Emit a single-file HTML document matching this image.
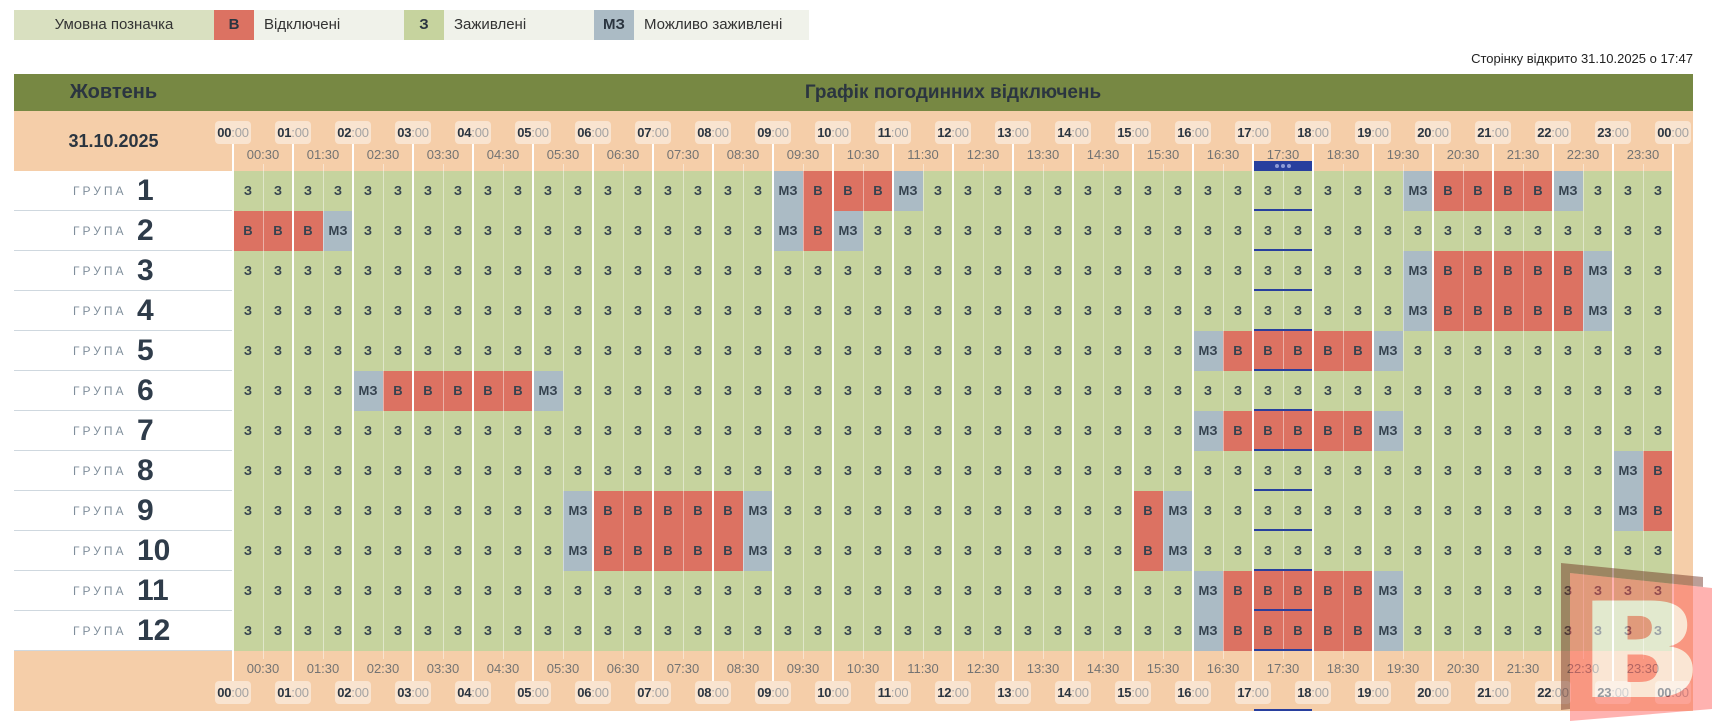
<!DOCTYPE html>
<html><head><meta charset="utf-8">
<style>
*{margin:0;padding:0;box-sizing:border-box}
body{width:1712px;height:722px;overflow:hidden;background:#fff;position:relative;font-family:"Liberation Sans",Arial,sans-serif;color:#2b3540}
.a{position:absolute}
.leg{position:absolute;top:10px;height:30px;line-height:30px;font-size:15px;color:#333}
.row{position:absolute;left:233px;height:40px;display:flex}
.row i{font-style:normal;display:block;width:30px;height:40px;line-height:40px;text-align:center;background:#c6d39e;font-weight:bold;font-size:13px;color:#35424f}
.row i.b{background:#dc7262}
.row i.m{background:#abbbc5}
.lab{position:absolute;left:14px;width:219px;height:40px;border-bottom:1px solid #cfd8df;background:#fff}
.lab .g{position:absolute;left:59px;top:0;line-height:40px;font-size:12px;letter-spacing:3px;color:#7f8e9b}
.lab .n{position:absolute;left:123px;top:0;line-height:40px;font-size:30px;font-weight:bold;color:#2f3c4a}
.p{position:absolute;width:36px;height:23px;line-height:23px;margin-left:-18px;text-align:center;background:rgba(255,255,255,.45);border-radius:4px;font-size:13px;color:#a3a3a3;letter-spacing:-0.2px}
.p b{color:#2b3540}
.h{position:absolute;width:44px;margin-left:-22px;text-align:center;font-size:13px;color:#737373;line-height:16px}
.vl{position:absolute;top:144px;height:537px;width:2px;margin-left:-1px;background:#fff}
.hl{position:absolute;top:164px;height:495px;width:1px;background:rgba(255,255,255,.45)}
.bl{position:absolute;left:1254px;width:58px;height:2px;background:#283f9e}
.top .p{top:121px}.top .h{top:147px}
.bot .p{top:681px}.bot .h{top:661px}
</style></head><body>

<!-- legend -->
<div class="leg" style="left:14px;width:200px;background:#d9e0c0;text-align:center">Умовна позначка</div>
<div class="leg" style="left:214px;width:40px;background:#dc7262;text-align:center;font-weight:bold;color:#2b3540">В</div>
<div class="leg" style="left:254px;width:150px;background:#f0f2ea;padding-left:10px">Відключені</div>
<div class="leg" style="left:404px;width:40px;background:#c6d39e;text-align:center;font-weight:bold;color:#2b3540">З</div>
<div class="leg" style="left:444px;width:150px;background:#f0f2ea;padding-left:10px">Заживлені</div>
<div class="leg" style="left:594px;width:40px;background:#abbbc5;text-align:center;font-weight:bold;color:#2b3540">МЗ</div>
<div class="leg" style="left:634px;width:175px;background:#f0f2ea;padding-left:10px">Можливо заживлені</div>

<div class="a" style="right:19px;top:51px;line-height:16px;font-size:13px;color:#222">Сторінку відкрито 31.10.2025 о 17:47</div>

<!-- header bar -->
<div class="a" style="left:14px;top:74px;width:1679px;height:37px;background:#778843"></div>
<div class="a" style="left:14px;top:74px;width:199px;line-height:37px;text-align:center;font-size:20px;font-weight:bold;color:#2b3540">Жовтень</div>
<div class="a" style="left:233px;top:74px;width:1440px;line-height:37px;text-align:center;font-size:19px;font-weight:bold;color:#2b3540">Графік погодинних відключень</div>

<!-- beige body -->
<div class="a" style="left:14px;top:111px;width:1679px;height:600px;background:#f5cea9"></div>
<div class="a" style="left:14px;top:129px;width:199px;line-height:24px;text-align:center;font-size:18px;font-weight:bold;color:#2b3540">31.10.2025</div>

<!-- labels -->
<div class="lab" style="top:171px"><span class="g">ГРУПА</span><span class="n">1</span></div>
<div class="lab" style="top:211px"><span class="g">ГРУПА</span><span class="n">2</span></div>
<div class="lab" style="top:251px"><span class="g">ГРУПА</span><span class="n">3</span></div>
<div class="lab" style="top:291px"><span class="g">ГРУПА</span><span class="n">4</span></div>
<div class="lab" style="top:331px"><span class="g">ГРУПА</span><span class="n">5</span></div>
<div class="lab" style="top:371px"><span class="g">ГРУПА</span><span class="n">6</span></div>
<div class="lab" style="top:411px"><span class="g">ГРУПА</span><span class="n">7</span></div>
<div class="lab" style="top:451px"><span class="g">ГРУПА</span><span class="n">8</span></div>
<div class="lab" style="top:491px"><span class="g">ГРУПА</span><span class="n">9</span></div>
<div class="lab" style="top:531px"><span class="g">ГРУПА</span><span class="n">10</span></div>
<div class="lab" style="top:571px"><span class="g">ГРУПА</span><span class="n">11</span></div>
<div class="lab" style="top:611px"><span class="g">ГРУПА</span><span class="n">12</span></div>

<!-- grid rows -->
<div class="row" style="top:171px">
<i>З</i><i>З</i><i>З</i><i>З</i><i>З</i><i>З</i><i>З</i><i>З</i><i>З</i><i>З</i><i>З</i><i>З</i><i>З</i><i>З</i><i>З</i><i>З</i><i>З</i><i>З</i>
<i class="m">МЗ</i><i class="b">В</i><i class="b">В</i><i class="b">В</i><i class="m">МЗ</i><i>З</i>
<i>З</i><i>З</i><i>З</i><i>З</i><i>З</i><i>З</i><i>З</i><i>З</i><i>З</i><i>З</i><i>З</i><i>З</i><i>З</i><i>З</i>
<i>З</i><i class="m">МЗ</i><i class="b">В</i><i class="b">В</i><i class="b">В</i><i class="b">В</i><i class="m">МЗ</i><i>З</i><i>З</i><i>З</i>
</div>
<div class="row" style="top:211px">
<i class="b">В</i><i class="b">В</i><i class="b">В</i><i class="m">МЗ</i>
<i>З</i><i>З</i><i>З</i><i>З</i><i>З</i><i>З</i><i>З</i><i>З</i><i>З</i><i>З</i><i>З</i><i>З</i><i>З</i><i>З</i>
<i class="m">МЗ</i><i class="b">В</i><i class="m">МЗ</i><i>З</i>
<i>З</i><i>З</i><i>З</i><i>З</i><i>З</i><i>З</i><i>З</i><i>З</i><i>З</i><i>З</i><i>З</i><i>З</i><i>З</i><i>З</i><i>З</i><i>З</i><i>З</i><i>З</i><i>З</i><i>З</i><i>З</i><i>З</i><i>З</i><i>З</i><i>З</i><i>З</i>
</div>
<div class="row" style="top:251px">
<i>З</i><i>З</i><i>З</i><i>З</i><i>З</i><i>З</i><i>З</i><i>З</i><i>З</i><i>З</i><i>З</i><i>З</i><i>З</i><i>З</i><i>З</i><i>З</i><i>З</i><i>З</i><i>З</i><i>З</i>
<i>З</i><i>З</i><i>З</i><i>З</i><i>З</i><i>З</i><i>З</i><i>З</i><i>З</i><i>З</i><i>З</i><i>З</i><i>З</i><i>З</i><i>З</i><i>З</i><i>З</i><i>З</i>
<i>З</i><i class="m">МЗ</i><i class="b">В</i><i class="b">В</i><i class="b">В</i><i class="b">В</i><i class="b">В</i><i class="m">МЗ</i><i>З</i><i>З</i>
</div>
<div class="row" style="top:291px">
<i>З</i><i>З</i><i>З</i><i>З</i><i>З</i><i>З</i><i>З</i><i>З</i><i>З</i><i>З</i><i>З</i><i>З</i><i>З</i><i>З</i><i>З</i><i>З</i><i>З</i><i>З</i><i>З</i><i>З</i>
<i>З</i><i>З</i><i>З</i><i>З</i><i>З</i><i>З</i><i>З</i><i>З</i><i>З</i><i>З</i><i>З</i><i>З</i><i>З</i><i>З</i><i>З</i><i>З</i><i>З</i><i>З</i>
<i>З</i><i class="m">МЗ</i><i class="b">В</i><i class="b">В</i><i class="b">В</i><i class="b">В</i><i class="b">В</i><i class="m">МЗ</i><i>З</i><i>З</i>
</div>
<div class="row" style="top:331px">
<i>З</i><i>З</i><i>З</i><i>З</i><i>З</i><i>З</i><i>З</i><i>З</i><i>З</i><i>З</i><i>З</i><i>З</i><i>З</i><i>З</i><i>З</i><i>З</i>
<i>З</i><i>З</i><i>З</i><i>З</i><i>З</i><i>З</i><i>З</i><i>З</i><i>З</i><i>З</i><i>З</i><i>З</i><i>З</i><i>З</i><i>З</i><i>З</i>
<i class="m">МЗ</i><i class="b">В</i><i class="b">В</i><i class="b">В</i><i class="b">В</i><i class="b">В</i><i class="m">МЗ</i><i>З</i>
<i>З</i><i>З</i><i>З</i><i>З</i><i>З</i><i>З</i><i>З</i><i>З</i>
</div>
<div class="row" style="top:371px">
<i>З</i><i>З</i><i>З</i><i>З</i><i class="m">МЗ</i><i class="b">В</i><i class="b">В</i><i class="b">В</i><i class="b">В</i><i class="b">В</i><i class="m">МЗ</i><i>З</i>
<i>З</i><i>З</i><i>З</i><i>З</i><i>З</i><i>З</i><i>З</i><i>З</i><i>З</i><i>З</i><i>З</i><i>З</i><i>З</i><i>З</i><i>З</i><i>З</i><i>З</i><i>З</i>
<i>З</i><i>З</i><i>З</i><i>З</i><i>З</i><i>З</i><i>З</i><i>З</i><i>З</i><i>З</i><i>З</i><i>З</i><i>З</i><i>З</i><i>З</i><i>З</i><i>З</i><i>З</i>
</div>
<div class="row" style="top:411px">
<i>З</i><i>З</i><i>З</i><i>З</i><i>З</i><i>З</i><i>З</i><i>З</i><i>З</i><i>З</i><i>З</i><i>З</i><i>З</i><i>З</i><i>З</i><i>З</i>
<i>З</i><i>З</i><i>З</i><i>З</i><i>З</i><i>З</i><i>З</i><i>З</i><i>З</i><i>З</i><i>З</i><i>З</i><i>З</i><i>З</i><i>З</i><i>З</i>
<i class="m">МЗ</i><i class="b">В</i><i class="b">В</i><i class="b">В</i><i class="b">В</i><i class="b">В</i><i class="m">МЗ</i><i>З</i>
<i>З</i><i>З</i><i>З</i><i>З</i><i>З</i><i>З</i><i>З</i><i>З</i>
</div>
<div class="row" style="top:451px">
<i>З</i><i>З</i><i>З</i><i>З</i><i>З</i><i>З</i><i>З</i><i>З</i><i>З</i><i>З</i><i>З</i><i>З</i><i>З</i><i>З</i><i>З</i><i>З</i>
<i>З</i><i>З</i><i>З</i><i>З</i><i>З</i><i>З</i><i>З</i><i>З</i><i>З</i><i>З</i><i>З</i><i>З</i><i>З</i><i>З</i><i>З</i><i>З</i>
<i>З</i><i>З</i><i>З</i><i>З</i><i>З</i><i>З</i><i>З</i><i>З</i><i>З</i><i>З</i><i>З</i><i>З</i><i>З</i><i>З</i>
<i class="m">МЗ</i><i class="b">В</i>
</div>
<div class="row" style="top:491px">
<i>З</i><i>З</i><i>З</i><i>З</i><i>З</i><i>З</i><i>З</i><i>З</i><i>З</i><i>З</i><i>З</i>
<i class="m">МЗ</i><i class="b">В</i><i class="b">В</i><i class="b">В</i><i class="b">В</i><i class="b">В</i><i class="m">МЗ</i>
<i>З</i><i>З</i><i>З</i><i>З</i><i>З</i><i>З</i><i>З</i><i>З</i><i>З</i><i>З</i><i>З</i><i>З</i>
<i class="b">В</i><i class="m">МЗ</i>
<i>З</i><i>З</i><i>З</i><i>З</i><i>З</i><i>З</i><i>З</i><i>З</i><i>З</i><i>З</i><i>З</i><i>З</i><i>З</i><i>З</i>
<i class="m">МЗ</i><i class="b">В</i>
</div>
<div class="row" style="top:531px">
<i>З</i><i>З</i><i>З</i><i>З</i><i>З</i><i>З</i><i>З</i><i>З</i><i>З</i><i>З</i><i>З</i>
<i class="m">МЗ</i><i class="b">В</i><i class="b">В</i><i class="b">В</i><i class="b">В</i><i class="b">В</i><i class="m">МЗ</i>
<i>З</i><i>З</i><i>З</i><i>З</i><i>З</i><i>З</i><i>З</i><i>З</i><i>З</i><i>З</i><i>З</i><i>З</i>
<i class="b">В</i><i class="m">МЗ</i>
<i>З</i><i>З</i><i>З</i><i>З</i><i>З</i><i>З</i><i>З</i><i>З</i><i>З</i><i>З</i><i>З</i><i>З</i><i>З</i><i>З</i><i>З</i><i>З</i>
</div>
<div class="row" style="top:571px">
<i>З</i><i>З</i><i>З</i><i>З</i><i>З</i><i>З</i><i>З</i><i>З</i><i>З</i><i>З</i><i>З</i><i>З</i><i>З</i><i>З</i><i>З</i><i>З</i>
<i>З</i><i>З</i><i>З</i><i>З</i><i>З</i><i>З</i><i>З</i><i>З</i><i>З</i><i>З</i><i>З</i><i>З</i><i>З</i><i>З</i><i>З</i><i>З</i>
<i class="m">МЗ</i><i class="b">В</i><i class="b">В</i><i class="b">В</i><i class="b">В</i><i class="b">В</i><i class="m">МЗ</i><i>З</i>
<i>З</i><i>З</i><i>З</i><i>З</i><i>З</i><i>З</i><i>З</i><i>З</i>
</div>
<div class="row" style="top:611px">
<i>З</i><i>З</i><i>З</i><i>З</i><i>З</i><i>З</i><i>З</i><i>З</i><i>З</i><i>З</i><i>З</i><i>З</i><i>З</i><i>З</i><i>З</i><i>З</i>
<i>З</i><i>З</i><i>З</i><i>З</i><i>З</i><i>З</i><i>З</i><i>З</i><i>З</i><i>З</i><i>З</i><i>З</i><i>З</i><i>З</i><i>З</i><i>З</i>
<i class="m">МЗ</i><i class="b">В</i><i class="b">В</i><i class="b">В</i><i class="b">В</i><i class="b">В</i><i class="m">МЗ</i><i>З</i>
<i>З</i><i>З</i><i>З</i><i>З</i><i>З</i><i>З</i><i>З</i><i>З</i>
</div>

<!-- hour lines -->
<div class="vl" style="left:233px"></div><div class="vl" style="left:293px"></div><div class="vl" style="left:353px"></div><div class="vl" style="left:413px"></div><div class="vl" style="left:473px"></div><div class="vl" style="left:533px"></div><div class="vl" style="left:593px"></div><div class="vl" style="left:653px"></div><div class="vl" style="left:713px"></div><div class="vl" style="left:773px"></div><div class="vl" style="left:833px"></div><div class="vl" style="left:893px"></div><div class="vl" style="left:953px"></div><div class="vl" style="left:1013px"></div><div class="vl" style="left:1073px"></div><div class="vl" style="left:1133px"></div><div class="vl" style="left:1193px"></div><div class="vl" style="left:1253px"></div><div class="vl" style="left:1313px"></div><div class="vl" style="left:1373px"></div><div class="vl" style="left:1433px"></div><div class="vl" style="left:1493px"></div><div class="vl" style="left:1553px"></div><div class="vl" style="left:1613px"></div><div class="vl" style="left:1673px"></div>
<!-- half lines -->
<div class="hl" style="left:263px"></div><div class="hl" style="left:323px"></div><div class="hl" style="left:383px"></div><div class="hl" style="left:443px"></div><div class="hl" style="left:503px"></div><div class="hl" style="left:563px"></div><div class="hl" style="left:623px"></div><div class="hl" style="left:683px"></div><div class="hl" style="left:743px"></div><div class="hl" style="left:803px"></div><div class="hl" style="left:863px"></div><div class="hl" style="left:923px"></div><div class="hl" style="left:983px"></div><div class="hl" style="left:1043px"></div><div class="hl" style="left:1103px"></div><div class="hl" style="left:1163px"></div><div class="hl" style="left:1223px"></div><div class="hl" style="left:1283px"></div><div class="hl" style="left:1343px"></div><div class="hl" style="left:1403px"></div><div class="hl" style="left:1463px"></div><div class="hl" style="left:1523px"></div><div class="hl" style="left:1583px"></div><div class="hl" style="left:1643px"></div>

<!-- header times -->
<div class="top">
<div class="p" style="left:233px"><b>00</b>:00</div><div class="p" style="left:293px"><b>01</b>:00</div><div class="p" style="left:353px"><b>02</b>:00</div><div class="p" style="left:413px"><b>03</b>:00</div><div class="p" style="left:473px"><b>04</b>:00</div><div class="p" style="left:533px"><b>05</b>:00</div><div class="p" style="left:593px"><b>06</b>:00</div><div class="p" style="left:653px"><b>07</b>:00</div><div class="p" style="left:713px"><b>08</b>:00</div><div class="p" style="left:773px"><b>09</b>:00</div><div class="p" style="left:833px"><b>10</b>:00</div><div class="p" style="left:893px"><b>11</b>:00</div><div class="p" style="left:953px"><b>12</b>:00</div><div class="p" style="left:1013px"><b>13</b>:00</div><div class="p" style="left:1073px"><b>14</b>:00</div><div class="p" style="left:1133px"><b>15</b>:00</div><div class="p" style="left:1193px"><b>16</b>:00</div><div class="p" style="left:1253px"><b>17</b>:00</div><div class="p" style="left:1313px"><b>18</b>:00</div><div class="p" style="left:1373px"><b>19</b>:00</div><div class="p" style="left:1433px"><b>20</b>:00</div><div class="p" style="left:1493px"><b>21</b>:00</div><div class="p" style="left:1553px"><b>22</b>:00</div><div class="p" style="left:1613px"><b>23</b>:00</div><div class="p" style="left:1673px"><b>00</b>:00</div>
<div class="h" style="left:263px">00:30</div><div class="h" style="left:323px">01:30</div><div class="h" style="left:383px">02:30</div><div class="h" style="left:443px">03:30</div><div class="h" style="left:503px">04:30</div><div class="h" style="left:563px">05:30</div><div class="h" style="left:623px">06:30</div><div class="h" style="left:683px">07:30</div><div class="h" style="left:743px">08:30</div><div class="h" style="left:803px">09:30</div><div class="h" style="left:863px">10:30</div><div class="h" style="left:923px">11:30</div><div class="h" style="left:983px">12:30</div><div class="h" style="left:1043px">13:30</div><div class="h" style="left:1103px">14:30</div><div class="h" style="left:1163px">15:30</div><div class="h" style="left:1223px">16:30</div><div class="h" style="left:1283px">17:30</div><div class="h" style="left:1343px">18:30</div><div class="h" style="left:1403px">19:30</div><div class="h" style="left:1463px">20:30</div><div class="h" style="left:1523px">21:30</div><div class="h" style="left:1583px">22:30</div><div class="h" style="left:1643px">23:30</div>
</div>

<!-- footer times -->
<div class="bot">
<div class="p" style="left:233px"><b>00</b>:00</div><div class="p" style="left:293px"><b>01</b>:00</div><div class="p" style="left:353px"><b>02</b>:00</div><div class="p" style="left:413px"><b>03</b>:00</div><div class="p" style="left:473px"><b>04</b>:00</div><div class="p" style="left:533px"><b>05</b>:00</div><div class="p" style="left:593px"><b>06</b>:00</div><div class="p" style="left:653px"><b>07</b>:00</div><div class="p" style="left:713px"><b>08</b>:00</div><div class="p" style="left:773px"><b>09</b>:00</div><div class="p" style="left:833px"><b>10</b>:00</div><div class="p" style="left:893px"><b>11</b>:00</div><div class="p" style="left:953px"><b>12</b>:00</div><div class="p" style="left:1013px"><b>13</b>:00</div><div class="p" style="left:1073px"><b>14</b>:00</div><div class="p" style="left:1133px"><b>15</b>:00</div><div class="p" style="left:1193px"><b>16</b>:00</div><div class="p" style="left:1253px"><b>17</b>:00</div><div class="p" style="left:1313px"><b>18</b>:00</div><div class="p" style="left:1373px"><b>19</b>:00</div><div class="p" style="left:1433px"><b>20</b>:00</div><div class="p" style="left:1493px"><b>21</b>:00</div><div class="p" style="left:1553px"><b>22</b>:00</div><div class="p" style="left:1613px"><b>23</b>:00</div><div class="p" style="left:1673px"><b>00</b>:00</div>
<div class="h" style="left:263px">00:30</div><div class="h" style="left:323px">01:30</div><div class="h" style="left:383px">02:30</div><div class="h" style="left:443px">03:30</div><div class="h" style="left:503px">04:30</div><div class="h" style="left:563px">05:30</div><div class="h" style="left:623px">06:30</div><div class="h" style="left:683px">07:30</div><div class="h" style="left:743px">08:30</div><div class="h" style="left:803px">09:30</div><div class="h" style="left:863px">10:30</div><div class="h" style="left:923px">11:30</div><div class="h" style="left:983px">12:30</div><div class="h" style="left:1043px">13:30</div><div class="h" style="left:1103px">14:30</div><div class="h" style="left:1163px">15:30</div><div class="h" style="left:1223px">16:30</div><div class="h" style="left:1283px">17:30</div><div class="h" style="left:1343px">18:30</div><div class="h" style="left:1403px">19:30</div><div class="h" style="left:1463px">20:30</div><div class="h" style="left:1523px">21:30</div><div class="h" style="left:1583px">22:30</div><div class="h" style="left:1643px">23:30</div>
</div>

<!-- current time marker -->
<div class="a" style="left:1254px;top:161px;width:58px;height:10px;background:#283f9e"></div>
<div class="a" style="left:1275px;top:164px;width:4px;height:4px;border-radius:2px;background:#8d9bd6"></div>
<div class="a" style="left:1281px;top:164px;width:4px;height:4px;border-radius:2px;background:#8d9bd6"></div>
<div class="a" style="left:1287px;top:164px;width:4px;height:4px;border-radius:2px;background:#8d9bd6"></div>
<div class="bl" style="top:209px"></div><div class="bl" style="top:249px"></div><div class="bl" style="top:289px"></div><div class="bl" style="top:329px"></div><div class="bl" style="top:369px"></div><div class="bl" style="top:409px"></div><div class="bl" style="top:449px"></div><div class="bl" style="top:489px"></div><div class="bl" style="top:529px"></div><div class="bl" style="top:569px"></div><div class="bl" style="top:609px"></div><div class="bl" style="top:649px"></div><div class="bl" style="top:709px"></div>

<!-- watermark logo -->
<svg class="a" style="left:0;top:0;pointer-events:none" width="1712" height="722" viewBox="0 0 1712 722">
<defs>
<mask id="mk" maskUnits="userSpaceOnUse" x="0" y="0" width="1712" height="722">
<rect x="0" y="0" width="1712" height="722" fill="#fff"/>
<g font-family="Liberation Sans, Arial, sans-serif" font-weight="700" font-size="140" fill="#000">
<text x="1583" y="697">В</text><text x="1586" y="697">В</text><text x="1589" y="697">В</text><text x="1592" y="697">В</text><text x="1595" y="697">В</text><text x="1598" y="697">В</text>
</g>
</mask>
</defs>
<polygon points="1561,563 1703,577 1703,587 1570,573 1570,709 1561,710" fill="rgb(105,40,25)" fill-opacity="0.45"/>
<polygon points="1570,573 1712,588 1712,709 1570,721" fill="rgb(255,85,80)" fill-opacity="0.45" mask="url(#mk)"/>
<g opacity="0.5" font-family="Liberation Sans, Arial, sans-serif" font-weight="700" font-size="140" fill="#fff">
<text x="1583" y="697">В</text><text x="1586" y="697">В</text><text x="1589" y="697">В</text><text x="1592" y="697">В</text><text x="1595" y="697">В</text><text x="1598" y="697">В</text>
</g>
</svg>
</body></html>
